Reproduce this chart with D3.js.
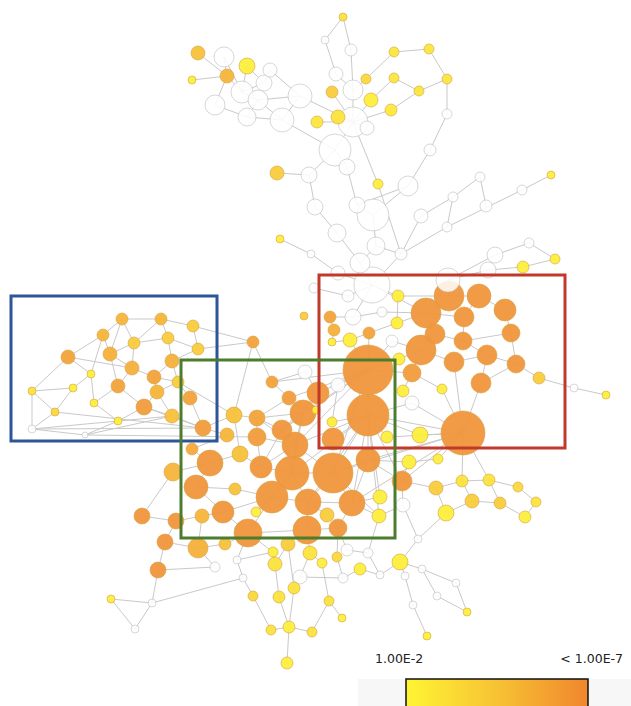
<!DOCTYPE html>
<html>
<head>
<meta charset="utf-8">
<script src="https://cdn.jsdelivr.net/npm/d3@7"></script>
<style>
  body { margin: 0; background: #fff; }
  svg { display: block; }
</style>
</head>
<body>
<svg id="chart"></svg>
<script>
// nodes: [x, y, radius, -log10(p)] in layout units; null = not significant
var nodes = [
  [343,17,4,2.5],[325,40,4,null],[351,50,6,null],[198,53,7,4],[224,57,10,null],
  [247,66,8,2],[270,70,7,null],[192,80,4,2],[227,76,7,4.5],[336,74,7,null],
  [394,52,5,2.3],[429,49,5,2.3],[366,79,5,3],[394,78,5,2.3],[419,91,5,2.3],
  [447,79,5,2.3],[332,92,6,3.5],[353,90,10,null],[371,100,7,2],[391,110,6,2.2],
  [242,92,11,null],[264,83,8,null],[258,100,10,null],[215,105,10,null],[300,96,12,null],
  [247,117,9,null],[282,120,12,null],[317,122,6,2.3],[338,117,7,2.5],[353,122,15,null],
  [367,128,7,null],[447,114,5,null],[430,150,6,null],[335,150,16,null],[347,167,8,null],
  [277,173,7,3.5],[309,175,8,null],[378,184,5,2],[408,186,10,null],[480,177,5,null],
  [551,175,4,2],[522,190,5,null],[453,197,5,null],[486,206,6,null],[421,216,7,null],
  [447,227,5,null],[315,207,8,null],[357,205,8,null],[373,215,16,null],[337,233,9,null],
  [280,239,4,2],[311,254,4,null],[376,246,9,null],[401,254,6,null],[360,263,10,null],
  [338,273,7,null],[529,243,5,null],[495,255,8,null],[555,259,5,2],[523,267,6,2],
  [488,270,8,null],[448,280,12,null],[314,288,5,null],[372,285,18,null],[398,296,6,2],
  // 65
  [449,296,15,7],[479,296,12,7],[426,313,15,7],[464,317,10,7],[505,310,11,7],
  [397,323,6,2],[330,317,6,6],[334,330,6,5],[332,342,4,2],[350,340,7,2],
  [369,333,6,6],[353,317,8,null],[382,312,5,null],[348,296,6,null],[435,334,10,7],
  [463,341,9,7],[511,333,9,7],[392,341,6,null],[421,350,15,7],[487,355,10,7],
  [454,362,10,7],[516,364,9,7],[399,359,6,2],[368,370,25,7],[412,373,9,6.5],
  [403,391,6,2],[442,389,5,2],[481,383,10,7],[539,378,6,3.5],[574,388,4,null],
  [606,395,4,2],[368,415,21,7],[463,433,22,7],[412,403,7,null],[332,422,5,2],
  [333,439,11,7],[420,435,8,2],[387,437,6,2],[318,393,11,7],[316,410,4,2],
  // 105
  [272,382,6,6],[305,372,7,null],[289,398,7,6.5],[303,413,13,7],[338,385,7,null],
  [190,398,7,6],[203,428,8,6.5],[234,415,8,4],[257,418,8,6],[282,430,10,7],
  [257,437,9,6.5],[227,435,7,4.5],[192,449,6,5.5],[240,454,8,4],[295,445,13,7],
  [210,463,13,7],[261,467,11,7],[292,473,17,7],[333,473,20,7],[368,460,12,7],
  [196,487,12,7],[235,489,6,4],[272,497,16,7],[308,502,13,7],[352,503,13,7],
  [380,497,7,2],[379,516,7,2],[256,512,5,2],[327,515,7,3.5],[223,512,11,7],
  [202,516,7,4.5],[338,528,9,7],[248,533,14,7],[307,530,14,7],[173,472,9,4.5],
  [142,516,8,7],[176,521,8,7],[165,542,8,7],[198,548,10,5],[225,544,6,4],
  [158,570,8,7],[253,342,6,6],[304,316,4,3.5],
  // 148
  [402,481,10,7],[409,462,7,2],[438,459,5,2],[436,488,7,3.5],[462,481,6,2.5],
  [489,480,6,2.5],[518,487,5,3],[536,502,5,2.5],[472,501,7,3.5],[500,503,6,3.5],
  [446,513,8,2],[525,517,6,2],[403,505,7,null],[418,539,4,null],[400,562,8,2],
  [422,569,4,null],[405,576,4,null],[456,583,4,null],[437,596,4,null],[467,612,4,2],
  [413,605,4,null],[427,636,4,2],
  // 170
  [215,567,5,null],[273,552,5,2],[288,544,7,3.5],[310,553,7,2.5],[275,564,7,2.5],
  [322,563,5,2],[337,557,5,3],[360,569,6,2],[347,550,6,null],[368,553,5,null],
  [300,577,7,null],[343,578,5,null],[243,578,4,null],[237,560,4,null],[380,575,4,null],
  [294,588,6,2.5],[253,596,5,3],[279,597,6,2.5],[329,601,5,2.5],[152,603,4,null],
  [111,599,4,2],[135,629,4,null],[342,618,4,2],[271,630,5,2.5],[289,627,6,2],
  [312,632,5,2.5],[287,663,6,2],
  // 197
  [122,319,6,4.5],[161,319,6,4.5],[193,326,6,3.5],[103,335,6,4.5],[134,343,6,3.5],
  [168,338,6,3.5],[198,349,6,3.5],[68,357,7,6],[110,354,7,5],[172,361,7,5],
  [132,368,7,5],[91,374,4,2],[154,377,7,6],[178,382,6,3.5],[73,388,4,2],
  [32,391,4,2.5],[118,386,7,6],[157,392,7,4.5],[94,403,4,2],[144,407,8,6.5],
  [55,412,4,3],[172,416,7,4],[118,421,4,2],[32,429,4,null],[85,435,3,null]
];

var links = [
  [3,8],[7,8],[4,8],[8,20],[8,23],[5,21],[5,20],[20,21],[21,6],[6,24],[20,22],[22,24],
  [23,25],[25,22],[25,26],[26,24],[22,26],[24,29],[26,33],[4,20],
  [0,2],[0,1],[1,9],[2,17],[9,17],[16,29],[17,29],[12,17],[10,12],[13,18],[18,29],
  [19,29],[28,29],[27,29],[29,33],[29,30],[11,15],[10,11],[13,14],[14,15],[15,31],
  [31,32],[32,38],[19,14],[29,37],
  [33,34],[33,36],[34,47],[35,36],[36,46],[46,49],[49,54],[47,48],[48,52],[37,53],
  [38,47],[38,48],[44,42],[42,39],[39,43],[42,45],[45,41],[41,40],[44,53],[45,53],
  [53,52],[52,54],[53,63],[50,51],[51,55],[55,63],[54,63],[62,78],[56,57],[57,61],
  [56,58],[58,59],[59,60],[60,61],[61,65],[63,64],[63,76],[63,78],[64,70],[64,65],[63,67],
  [65,66],[65,67],[66,69],[66,68],[67,68],[67,79],[68,80],[69,81],[80,81],[79,80],
  [79,83],[80,84],[81,86],[84,86],[83,85],[85,84],[84,92],[86,92],[86,93],[93,94],[94,95],
  [83,89],[83,87],[89,88],[89,90],[91,97],[89,91],[70,67],[70,75],[71,72],[72,73],
  [73,74],[74,75],[71,76],[76,77],[77,67],[75,88],[74,88],[82,88],[82,83],[87,88],
  [88,96],[96,97],[96,98],[98,97],[96,99],[96,100],[96,102],[101,97],[102,97],[88,103],
  [103,108],[96,123],[96,124],[96,122],[96,129],[97,123],[97,129],[97,124],[88,109],[88,123],
  [85,97],[92,97],[88,119],[88,108],[96,119],[96,128],
  [96,130],[96,131],[96,148],[96,101],[88,105],[88,107],[123,131],[122,132],[119,121],
  [114,121],[108,113],[127,134],[122,128],[97,148],[88,114],
  [105,106],[105,107],[106,103],[107,108],[108,114],[108,122],[108,119],[109,99],
  [110,111],[146,105],[111,112],[112,113],[113,114],[113,115],[114,119],[115,119],
  [116,117],[116,111],[117,120],[118,120],[118,121],[119,122],[120,125],[121,122],
  [122,123],[123,124],[122,127],[123,128],[123,129],[124,129],[125,134],[125,126],
  [126,127],[127,128],[128,129],[127,132],[127,137],[128,138],[128,133],[129,136],
  [130,129],[131,129],[134,135],[134,137],[137,138],[138,136],[135,143],[139,120],
  [139,140],[140,141],[141,134],[141,142],[142,143],[143,144],[142,145],[144,137],
  [112,118],[114,122],[115,121],[119,123],[107,113],[113,119],[146,112],[103,114],
  [148,124],[148,149],[149,150],[148,151],[151,152],[152,153],[153,154],[154,155],
  [155,159],[159,157],[157,156],[156,158],[158,151],[156,152],[157,153],[97,150],
  [97,152],[97,153],[160,148],[160,161],[161,162],[162,163],[162,164],[163,165],
  [165,167],[164,168],[168,169],[163,166],[166,167],[161,158],[131,160],[124,149],
  [137,171],[138,172],[138,173],[136,176],[136,178],[131,179],[172,174],[173,175],
  [171,174],[174,187],[172,185],[173,180],[180,185],[185,194],[187,194],[186,193],
  [186,182],[182,183],[183,137],[176,181],[175,188],[188,192],[188,195],[194,195],
  [194,193],[194,196],[177,181],[177,184],[184,162],[179,184],[178,179],[170,145],
  [170,143],[189,190],[190,191],[191,189],[189,182],[145,189],[171,183],[180,181],
  [197,198],[198,199],[197,200],[197,201],[198,202],[199,203],[200,204],[200,205],
  [201,205],[201,202],[202,203],[201,207],[202,206],[203,206],[204,208],[204,212],
  [205,207],[205,213],[206,209],[206,210],[207,209],[207,213],[208,211],[208,215],
  [209,214],[210,214],[211,212],[211,217],[213,216],[214,216],[214,218],[215,219],
  [216,218],[212,220],[217,220],[220,221],[221,219],[219,216],[220,218],[221,218],
  [204,207],[209,210],[213,215],[198,201],[203,146],[210,110],[218,111],[216,111],
  [199,146],[220,111],[212,217],[197,205],[200,208],[210,112],[221,115],[217,111]
];

var boxes = [
  {x0: 11, y0: 296, x1: 217, y1: 441, color: "#2d5597"},
  {x0: 319, y0: 275, x1: 565, y1: 448, color: "#c0392b"},
  {x0: 181, y0: 360, x1: 395, y1: 538, color: "#4c7d2f"}
];

var legendLabels = ["1.00E-2", "< 1.00E-7"];
var legendStops = ["#fff533", "#f7c234", "#f0862d"];

var width = 631, height = 706;
var svg = d3.select("#chart").attr("width", width).attr("height", height);

var x = d3.scaleLinear().domain([0, 631]).range([0, width]);
var y = d3.scaleLinear().domain([0, 706]).range([0, height]);
var color = d3.scaleLinear()
    .domain([2, 4.5, 7])
    .range(["#fcee3c", "#f6b63a", "#f0963c"]);

// edges
svg.append("g").selectAll("line")
    .data(links)
    .enter()
    .append("line")
    .attr("x1", function(d) { return x(nodes[d[0]][0]); })
    .attr("y1", function(d) { return y(nodes[d[0]][1]); })
    .attr("x2", function(d) { return x(nodes[d[1]][0]); })
    .attr("y2", function(d) { return y(nodes[d[1]][1]); })
    .attr("stroke", "#c9c9c9")
    .attr("stroke-width", 1);

// nodes, big ones first so small ones stay on top
var sorted = nodes.slice().sort(function(a, b) { return b[2] - a[2]; });
svg.append("g").selectAll("circle")
    .data(sorted)
    .enter()
    .append("circle")
    .attr("cx", function(d) { return x(d[0]); })
    .attr("cy", function(d) { return y(d[1]); })
    .attr("r", function(d) { return d[2]; })
    .attr("fill", function(d) { return d[3] == null ? "#ffffff" : color(d[3]); })
    .attr("fill-opacity", function(d) { return d[3] == null ? 0.85 : 0.95; })
    .attr("stroke", function(d) { return d[3] == null ? "#bdbdbd" : "#d9a040"; })
    .attr("stroke-opacity", 0.6)
    .attr("stroke-width", 1);

// highlight boxes
svg.append("g").selectAll("rect")
    .data(boxes)
    .enter()
    .append("rect")
    .attr("x", function(d) { return x(d.x0); })
    .attr("y", function(d) { return y(d.y0); })
    .attr("width", function(d) { return x(d.x1) - x(d.x0); })
    .attr("height", function(d) { return y(d.y1) - y(d.y0); })
    .attr("fill", "none")
    .attr("stroke", function(d) { return d.color; })
    .attr("stroke-width", 3);

// legend
var defs = svg.append("defs");
var grad = defs.append("linearGradient").attr("id", "pgrad");
grad.selectAll("stop")
    .data(legendStops)
    .enter()
    .append("stop")
    .attr("offset", function(d, i) { return (i / (legendStops.length - 1) * 100) + "%"; })
    .attr("stop-color", function(d) { return d; });

svg.append("rect")
    .attr("x", 358).attr("y", 679)
    .attr("width", 273).attr("height", 27)
    .attr("fill", "#f7f7f7");

svg.append("rect")
    .attr("x", 406).attr("y", 679)
    .attr("width", 182).attr("height", 30)
    .attr("fill", "url(#pgrad)")
    .attr("stroke", "#111")
    .attr("stroke-width", 1.5);

svg.append("text")
    .attr("x", 375).attr("y", 663)
    .attr("font-family", "DejaVu Sans, sans-serif")
    .attr("font-size", 12.5)
    .attr("fill", "#222")
    .text(legendLabels[0]);

svg.append("text")
    .attr("x", 623).attr("y", 663)
    .attr("text-anchor", "end")
    .attr("font-family", "DejaVu Sans, sans-serif")
    .attr("font-size", 12.5)
    .attr("fill", "#222")
    .text(legendLabels[1]);
</script>
</body>
</html>
